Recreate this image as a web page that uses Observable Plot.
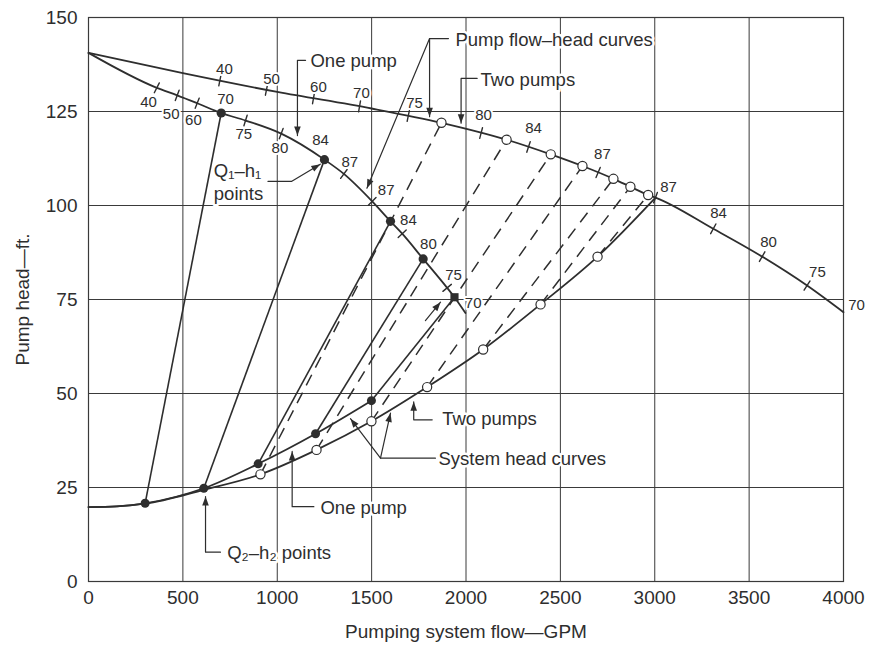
<!DOCTYPE html>
<html><head><meta charset="utf-8">
<script src="https://cdn.jsdelivr.net/npm/d3@7"></script>
<script src="https://cdn.jsdelivr.net/npm/@observablehq/plot@0.6"></script>
<style>body{margin:0;background:#fff}</style>
</head><body><div id="chart"></div>
<script>
// ---------- data ----------
const xTicks = [0, 500, 1000, 1500, 2000, 2500, 3000, 3500, 4000];
const yTicks = [0, 25, 50, 75, 100, 125, 150];

// pump flow-head curve, two pumps
const twoPumpQ = [0, 500, 1000, 1500, 1870, 2215, 2449, 2617, 2781, 2871, 2965, 3004, 3310, 3569, 3807, 4000];
const twoPumpH = [140.6, 135.2, 130.2, 125.8, 122.0, 117.5, 113.6, 110.5, 107.1, 105.0, 102.8, 102.1, 93.8, 86.4, 78.7, 71.6];
// pump flow-head curve, one pump
const onePumpQ = [0, 362, 470, 576, 703, 832, 1021, 1250, 1353, 1503, 1600, 1662, 1773, 1900, 1939, 1997];
const onePumpH = [140.6, 131.3, 129.3, 127.2, 124.6, 122.6, 119.1, 112.2, 108.4, 101.1, 95.8, 92.5, 85.8, 78.1, 75.6, 71.4];
// system head curves
const sysOneQ = [0, 150, 300, 611, 899, 1203, 1499];
const sysOneH = [19.8, 20.0, 20.8, 24.8, 31.3, 39.3, 48.1];
const sysTwoQ = [0, 150, 300, 611, 911, 1208, 1499, 1794, 2091, 2395, 2697, 3004];
const sysTwoH = [19.8, 20.0, 20.7, 24.4, 28.5, 35.0, 42.6, 51.7, 61.7, 73.7, 86.4, 102.1];

// Q1-h1 points (one-pump curve) and Q2-h2 points (system curve)
const q1Q = [703, 1250, 1600, 1773, 1939];
const q1H = [124.6, 112.2, 95.8, 85.8, 75.6];
const q1Symbol = ["circle", "circle", "circle", "circle", "square"];
const q2Q = [300, 611, 899, 1203, 1499];
const q2H = [20.8, 24.8, 31.3, 39.3, 48.1];
// open points: two-pump curve and two-pump system curve
const openPumpQ = [1870, 2215, 2449, 2617, 2781, 2871, 2965];
const openPumpH = [122.0, 117.5, 113.6, 110.5, 107.1, 105.0, 102.8];
const openSysQ = [911, 1208, 1499, 1794, 2091, 2395, 2697];
const openSysH = [28.5, 35.0, 42.6, 51.7, 61.7, 73.7, 86.4];

// efficiency ticks and labels
const twoTickQ = [696, 943, 1192, 1436, 1694, 2080, 2331, 2700, 3004, 3310, 3569, 3807];
const twoLabel = ["40", "50", "60", "70", "75", "80", "84", "87", "87", "84", "80", "75", "70"];
const twoLabelQ = [720, 970, 1218, 1446, 1727, 2093, 2358, 2723, 3073, 3338, 3603, 3862, 4069];
const twoLabelH = [136.2, 133.5, 131.5, 129.8, 127.2, 123.9, 120.5, 113.6, 104.8, 97.9, 90.2, 82.2, 73.4];
const oneTickQ = [362, 470, 576, 832, 1021, 1353, 1503, 1662, 1900];
const oneLabel = ["40", "50", "60", "70", "75", "80", "84", "87", "87", "84", "80", "75", "70"];
const oneLabelQ = [318, 438, 556, 726, 823, 1014, 1229, 1384, 1577, 1695, 1801, 1934, 2038];
const oneLabelH = [127.5, 124.4, 122.6, 128.4, 118.9, 115.3, 117.5, 111.5, 104.2, 96.2, 89.8, 81.4, 73.9];

// annotations
const noteText = ["One pump", "Pump flow\u2013head curves", "Two pumps", "Q\u2081\u2013h\u2081\npoints",
  "System head curves", "Two pumps", "One pump", "Q\u2082\u2013h\u2082 points"];
const noteQ = [1176, 1944, 2077, 664, 1854, 1874, 1229, 735];
const noteH = [138.6, 144.4, 133.8, 106.4, 32.8, 43.5, 19.9, 7.8];
const leaders = [
  [[1150, 138.6], [1107, 138.6], [1107, 118.6]],
  [[1907, 144.4], [1807, 144.4], [1807, 123.6]],
  [[1807, 144.4], [1475, 104.6]],
  [[2059, 133.8], [1974, 133.8], [1974, 121.9]],
  [[951, 106.4], [1075, 106.4], [1228, 111.0]],
  [[1838, 32.8], [1547, 32.8], [1388, 43.3]],
  [[1547, 32.8], [1600, 44.8]],
  [[1821, 43.0], [1723, 43.0], [1723, 47.8]],
  [[1194, 19.9], [1079, 19.9], [1079, 34.6]],
  [[699, 7.8], [620, 7.8], [620, 22.6]],
  [[1785, 69.4], [1865, 74.3]]
];

// ---------- helpers ----------
const W = 873, H = 649, ML = 88, MR = 30, MT = 17, MB = 68;
const KX = (W - ML - MR) / 4000, KY = (H - MT - MB) / 150;
const ink = "#2e2e2e";
function onCurve(q, Q, Hs) {
  for (let i = 0; i < Q.length - 1; i++) {
    if (q >= Q[i] && q <= Q[i + 1]) {
      const s = (Hs[i + 1] - Hs[i]) / (Q[i + 1] - Q[i]);
      return {h: Hs[i] + s * (q - Q[i]), s};
    }
  }
}
const pts = (Q, Hs) => Q.map((q, i) => ({q, h: Hs[i]}));
const ticksOn = (TQ, Q, Hs) => TQ.map(q => {
  const c = onCurve(q, Q, Hs);
  return {q, h: c.h, rot: Math.atan(-c.s * KY / KX) * 180 / Math.PI};
});
const tickShape = {draw(ctx, l) { ctx.moveTo(0, 0); ctx.lineTo(0, -l); }};
const headShape = {draw(ctx, l) { ctx.moveTo(0, -l); ctx.lineTo(-3.3, 0); ctx.lineTo(3.3, 0); ctx.closePath(); }};

const curves = [
  ...pts(twoPumpQ, twoPumpH).map(d => ({...d, k: "two"})),
  ...pts(onePumpQ, onePumpH).map(d => ({...d, k: "one"})),
  ...pts(sysOneQ, sysOneH).map(d => ({...d, k: "s1"})),
  ...pts(sysTwoQ, sysTwoH).map(d => ({...d, k: "s2"}))
];
const solidLinks = q1Q.map((q, i) => ({q1: q2Q[i], h1: q2H[i], q2: q, h2: q1H[i]}));
const dashLinks = openPumpQ.map((q, i) => ({q1: openSysQ[i], h1: openSysH[i], q2: q, h2: openPumpH[i]}));
const effTicks = [...ticksOn(twoTickQ, twoPumpQ, twoPumpH), ...ticksOn(oneTickQ, onePumpQ, onePumpH)];
const effLabels = [
  ...twoLabel.map((t, i) => ({t, q: twoLabelQ[i], h: twoLabelH[i]})),
  ...oneLabel.map((t, i) => ({t, q: oneLabelQ[i], h: oneLabelH[i]}))
];
const leaderPts = leaders.flatMap((L, k) => L.map(([q, h]) => ({q, h, k})));
const heads = leaders.map(L => {
  const [a, b] = [L[L.length - 2], L[L.length - 1]];
  const dx = (b[0] - a[0]) * KX, dy = -(b[1] - a[1]) * KY;
  return {q: b[0], h: b[1], rot: Math.atan2(dx, -dy) * 180 / Math.PI};
});
const notes = noteText.map((t, i) => ({t, q: noteQ[i], h: noteH[i]}));
const q1Pts = q1Q.map((q, i) => ({q, h: q1H[i], s: q1Symbol[i]}));

const chart = Plot.plot({
  width: W, height: H, marginLeft: ML, marginRight: MR, marginTop: MT, marginBottom: MB,
  style: {fontFamily: "'Liberation Sans', Arial, Helvetica, sans-serif", fontSize: "19px", color: ink, background: "#fff", overflow: "visible"},
  x: {domain: [0, 4000], ticks: xTicks, tickFormat: d => String(d), label: "Pumping system flow\u2014GPM", labelAnchor: "center", labelArrow: "none", labelOffset: 56, tickSize: 0, tickPadding: 9},
  y: {domain: [0, 150], ticks: yTicks, tickFormat: d => String(d), label: "Pump head\u2014ft.", labelAnchor: "center", labelArrow: "none", labelOffset: 73, tickSize: 0, tickPadding: 11},
  marks: [
    Plot.ruleX(xTicks, {stroke: "#3a3a3a", strokeWidth: 1}),
    Plot.ruleY(yTicks, {stroke: "#3a3a3a", strokeWidth: 1}),
    Plot.frame({stroke: "#3a3a3a", strokeWidth: 1.2}),
    Plot.line(curves, {x: "q", y: "h", z: "k", curve: "monotone-x", stroke: ink, strokeWidth: 1.8}),
    Plot.link(solidLinks, {x1: "q1", y1: "h1", x2: "q2", y2: "h2", stroke: ink, strokeWidth: 1.6}),
    Plot.link(dashLinks, {x1: "q1", y1: "h1", x2: "q2", y2: "h2", stroke: ink, strokeWidth: 1.5, strokeDasharray: "12,8"}),
    Plot.vector(effTicks, {x: "q", y: "h", rotate: "rot", length: 11, anchor: "middle", shape: tickShape, stroke: ink, strokeWidth: 1.4}),
    Plot.dot(q2Q.map((q, i) => ({q, h: q2H[i]})), {x: "q", y: "h", r: 4.5, fill: ink, stroke: "none"}),
    Plot.dot(q1Pts, {x: "q", y: "h", symbol: "s", r: 4.6, fill: ink, stroke: "none"}),
    Plot.dot(pts(openPumpQ, openPumpH), {x: "q", y: "h", r: 4.6, fill: "#fff", stroke: ink, strokeWidth: 1.2}),
    Plot.dot(pts(openSysQ, openSysH), {x: "q", y: "h", r: 4.6, fill: "#fff", stroke: ink, strokeWidth: 1.2}),
    Plot.text(effLabels, {x: "q", y: "h", text: "t", fontSize: 15, fill: ink, stroke: "#fff", strokeWidth: 4}),
    Plot.line(leaderPts, {x: "q", y: "h", z: "k", stroke: ink, strokeWidth: 1.2}),
    Plot.vector(heads, {x: "q", y: "h", rotate: "rot", length: 9, anchor: "end", shape: headShape, fill: ink, stroke: "none"}),
    Plot.text(notes, {x: "q", y: "h", text: "t", textAnchor: "start", lineAnchor: "middle", lineHeight: 1.2, fontSize: 18.5, fill: ink, stroke: "#fff", strokeWidth: 5})
  ]
});
document.getElementById("chart").appendChild(chart);
</script></body></html>
